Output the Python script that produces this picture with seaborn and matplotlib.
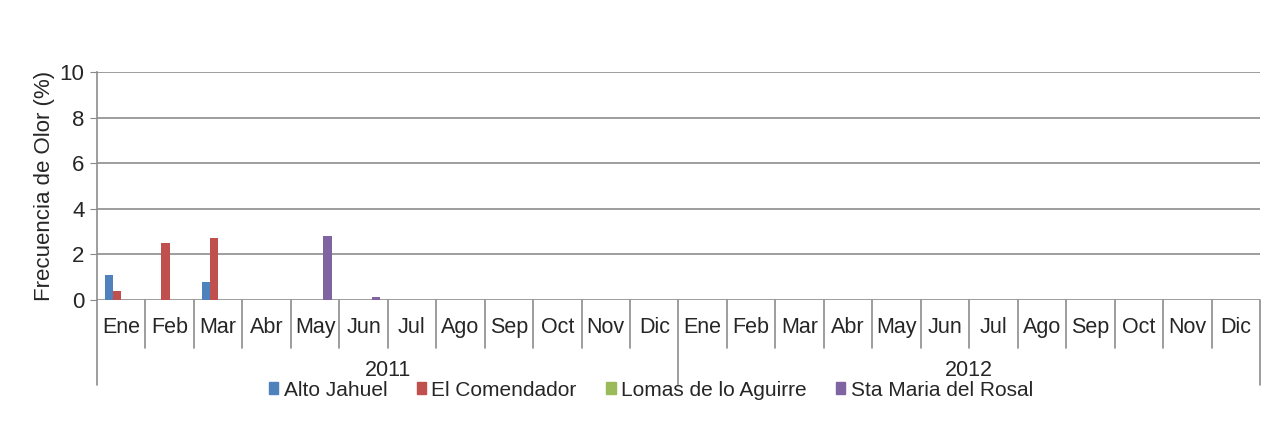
import numpy as np
import pandas as pd
import matplotlib
matplotlib.use("Agg")
import matplotlib.pyplot as plt
import matplotlib.transforms as mtransforms
import seaborn as sns

months = ["Ene", "Feb", "Mar", "Abr", "May", "Jun", "Jul", "Ago", "Sep", "Oct", "Nov", "Dic"]
years = ["2011", "2012"]
stations = ["Alto Jahuel", "El Comendador", "Lomas de lo Aguirre", "Sta Maria del Rosal"]
colors = ["#4F81BD", "#C0504D", "#9BBB59", "#8064A2"]

# values per station, 24 months (2011 then 2012)
alto_jahuel = [1.1, 0, 0.8, 0, 0, 0, 0, 0, 0, 0, 0, 0] + [0] * 12
el_comendador = [0.4, 2.5, 2.7, 0, 0, 0, 0, 0, 0, 0, 0, 0] + [0] * 12
lomas_aguirre = [0] * 24
sta_maria = [0, 0, 0, 0, 2.8, 0.15, 0, 0, 0, 0, 0, 0] + [0] * 12

periods = [f"{y}-{m}" for y in years for m in months]
series = [alto_jahuel, el_comendador, lomas_aguirre, sta_maria]

rows = []
for name, vals in zip(stations, series):
    for p, v in zip(periods, vals):
        rows.append({"periodo": p, "estacion": name, "frecuencia": v})
df = pd.DataFrame(rows)

sns.set_style("white")
plt.rcParams["font.family"] = ["Liberation Sans", "DejaVu Sans"]

fig = plt.figure(figsize=(12.78, 4.34), dpi=100)
ax = fig.add_axes([97 / 1278, 1 - 300 / 434, (1260 - 97) / 1278, (300 - 72) / 434])

sns.barplot(data=df, x="periodo", y="frecuencia", hue="estacion", order=periods,
            hue_order=stations, palette=colors, width=0.68, saturation=1,
            errorbar=None, ax=ax, legend=False, linewidth=0)

ax.set_ylim(0, 10)
ax.set_xlim(-0.5, len(periods) - 0.5)
ax.set_yticks(np.arange(0, 11, 2))
ax.tick_params(axis="y", labelsize=16, length=5, color="#888888", direction="out", left=True, pad=4)
ax.yaxis.grid(True, color="#8C8C8C", linewidth=1.2)
ax.set_axisbelow(True)
for s in ["top", "right", "bottom"]:
    ax.spines[s].set_visible(False)
ax.spines["left"].set_color("#8C8C8C")
ax.spines["left"].set_linewidth(1.2)
ax.set_ylabel("Frecuencia de Olor (%)", fontsize=16, labelpad=3)
ax.set_xlabel("")

# month labels and separators under the axis
ax.set_xticks(range(len(periods)))
ax.set_xticklabels([m for y in years for m in months], fontsize=15.5)
ax.tick_params(axis="x", length=0, pad=20)
for lbl in ax.get_xticklabels():
    lbl.set_verticalalignment("center")
trans = mtransforms.blended_transform_factory(ax.transData, ax.transAxes)
bounds = np.arange(len(periods) + 1) - 0.5
for b in bounds:
    outer = b in (bounds[0], bounds[12], bounds[-1])
    low = -85 / 228 if outer else -48 / 228
    ax.plot([b, b], [0, low], transform=trans, color="#8C8C8C", lw=1.2, clip_on=False)

for i, y in enumerate(years):
    ax.text(i * 12 + 5.5, -70 / 228, y, transform=trans, ha="center", va="center", fontsize=15.5)

handles = [plt.Rectangle((0, 0), 1, 1, color=c) for c in colors]
fig.legend(handles, stations, loc="center", ncol=4, bbox_to_anchor=(0.5094, 1 - 390 / 434),
           frameon=False, fontsize=15, handlelength=0.45, handleheight=0.45,
           handletextpad=0.25, columnspacing=1.42)

fig.savefig("out.png", dpi=100)
